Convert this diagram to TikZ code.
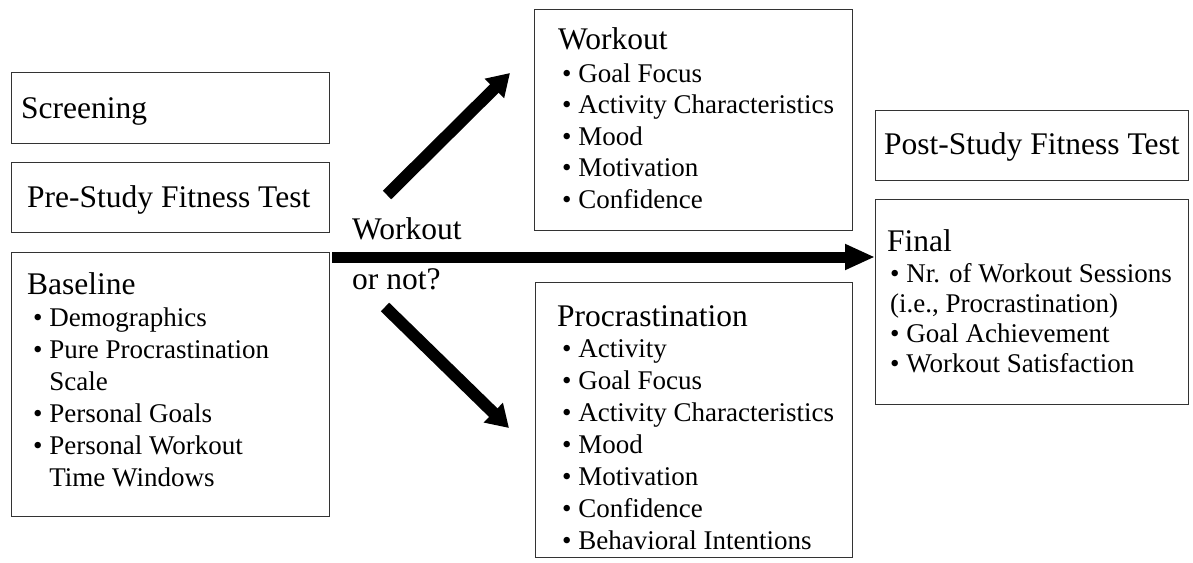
\documentclass[tikz,border=0pt]{standalone}
\usepackage{fontspec}
\setmainfont{Liberation Serif}
\usetikzlibrary{arrows.meta}

\newcommand{\itm}[1]{\textbullet\ #1}
\newcommand{\cont}[1]{\phantom{\textbullet\ }#1}

\tikzset{
  boxst/.style={draw=black!80,line width=1.3pt,inner sep=0pt,anchor=north west},
  headtxt/.style={font=\fontsize{31.5}{36}\selectfont,inner sep=0pt,anchor=base west},
  itemtxt/.style={font=\fontsize{27}{31}\selectfont,inner sep=0pt,anchor=base west},
  bigarrow/.style={line width=11pt,-{Triangle[length=30pt,width=24pt]}},
  diagarrow/.style={line width=12pt,-{Triangle[length=22pt,width=26pt]}}
}

\begin{document}
\begin{tikzpicture}[x=1pt,y=-1pt]
\useasboundingbox (0,0) rectangle (1193,562);
% ---------- left column ----------
\node[boxst,minimum width=318pt,minimum height=71pt] (screening) at (11,72) {};
\node[headtxt] (screening-t) at (21,118) {Screening};
\node[boxst,minimum width=318pt,minimum height=70pt] (prestudy) at (11,162) {};
\node[headtxt] (prestudy-t) at (27,207) {Pre-Study Fitness Test};
\node[boxst,minimum width=318pt,minimum height=264pt] (baseline) at (11,252) {};
\node[headtxt] (baseline-t) at (27,294) {Baseline};
\foreach \t [count=\i] in {\itm{Demographics},\itm{Pure Procrastination},\cont{Scale},
    \itm{Personal Goals},\itm{Personal Workout},\cont{Time Windows}}
  \node[itemtxt] (bl-\i) at (33,{326+32*(\i-1)}) {\t};
% ---------- middle column ----------
\node[boxst,minimum width=318pt,minimum height=221pt] (workout) at (534,9) {};
\node[headtxt] (workout-t) at (558,49) {Workout};
\foreach \t [count=\i] in {Goal Focus,Activity Characteristics,Mood,Motivation,Confidence}
  \node[itemtxt] (wk-\i) at (562,{82+31.5*(\i-1)}) {\itm{\t}};
\node[boxst,minimum width=317pt,minimum height=275pt] (procr) at (535,282) {};
\node[headtxt] (procr-t) at (557,326) {Procrastination};
\foreach \t [count=\i] in {Activity,Goal Focus,Activity Characteristics,Mood,Motivation,
    Confidence,Behavioral Intentions}
  \node[itemtxt] (pr-\i) at (562,{357+32*(\i-1)}) {\itm{\t}};
% ---------- right column ----------
\node[boxst,minimum width=313pt,minimum height=70pt] (poststudy) at (875,110) {};
\node[headtxt] (poststudy-t) at (884,154) {Post-Study Fitness Test};
\node[boxst,minimum width=313pt,minimum height=205pt] (final) at (875,199) {};
\node[headtxt] (final-t) at (887,251) {Final};
\foreach \t [count=\i] in {\itm{Nr. of Workout Sessions},{(i.e., Procrastination)},
    \itm{Goal Achievement},\itm{Workout Satisfaction}}
  \node[itemtxt] (fn-\i) at (890,{282+30*(\i-1)}) {\t};
% ---------- decision ----------
\node[headtxt] (decide-a) at (352,239) {Workout};
\node[headtxt] (decide-b) at (352,289) {or not?};
\coordinate (fork) at (332,257);
\draw[bigarrow] (fork) -- (fork -| final.west);
\coordinate (upstart) at (387,195);
\coordinate (upend) at (510,73);
\draw[diagarrow] (upstart) -- (upend);
\coordinate (downstart) at (385,307);
\coordinate (downend) at (509,428);
\draw[diagarrow] (downstart) -- (downend);
\end{tikzpicture}
\end{document}
